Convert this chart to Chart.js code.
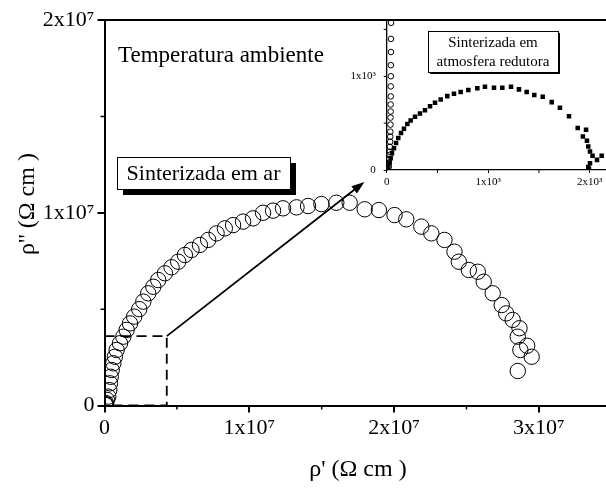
<!DOCTYPE html>
<html>
<head>
<meta charset="utf-8">
<script src="https://cdn.jsdelivr.net/npm/chart.js@4.4.1/dist/chart.umd.min.js"></script>
<style>
  html, body { margin: 0; padding: 0; background: #fff; overflow: hidden; }
  #wrap { position: relative; width: 606px; height: 491px; overflow: hidden; }
  #mainChart { position: absolute; left: 0; top: 0; }
  #insetChart { position: absolute; left: 340px; top: 0; }
</style>
</head>
<body>
<div id="wrap">
  <canvas id="mainChart" width="620" height="491"></canvas>
  <canvas id="insetChart" width="280" height="200"></canvas>
</div>
<script>
// main plot: sample sintered in air (rho', rho'' in Ohm cm)
const airRe = [0.05e6, 0.08e6, 0.1e6, 0.17e6, 0.26e6, 0.33e6, 0.38e6, 0.43e6, 0.50e6, 0.61e6, 0.72e6, 0.84e6,
  1.07e6, 1.30e6, 1.53e6, 1.76e6, 2.05e6, 2.40e6, 2.68e6, 3.02e6, 3.37e6, 3.71e6, 4.17e6, 4.63e6, 5.09e6,
  5.55e6, 6.01e6, 6.59e6, 7.16e6, 7.74e6, 8.31e6, 8.88e6, 9.57e6, 10.26e6, 10.95e6, 11.64e6, 12.33e6,
  13.26e6, 14.06e6, 14.98e6, 16.01e6, 16.93e6, 17.97e6, 18.95e6, 20.03e6, 20.84e6, 21.88e6, 22.57e6,
  23.48e6, 24.17e6, 24.47e6, 25.16e6, 25.78e6, 26.19e6, 26.81e6, 27.43e6, 27.74e6, 28.19e6, 28.66e6,
  28.54e6, 29.19e6, 28.72e6, 29.50e6, 28.54e6];
const airIm = [0.03e6, 0.07e6, 0.13e6, 0.29e6, 0.46e6, 0.80e6, 1.15e6, 1.49e6, 1.84e6, 2.19e6, 2.53e6, 2.88e6,
  3.23e6, 3.57e6, 3.92e6, 4.26e6, 4.61e6, 5.00e6, 5.39e6, 5.82e6, 6.16e6, 6.51e6, 6.86e6, 7.17e6, 7.46e6,
  7.81e6, 8.07e6, 8.33e6, 8.59e6, 8.93e6, 9.19e6, 9.36e6, 9.54e6, 9.71e6, 10.00e6, 10.11e6, 10.23e6,
  10.28e6, 10.35e6, 10.45e6, 10.52e6, 10.52e6, 10.18e6, 10.14e6, 9.88e6, 9.66e6, 9.28e6, 8.93e6,
  8.59e6, 7.98e6, 7.46e6, 7.03e6, 6.94e6, 6.42e6, 5.82e6, 5.21e6, 4.78e6, 4.44e6, 4.01e6,
  3.57e6, 3.10e6, 2.88e6, 2.53e6, 1.79e6];

// inset: air sample near origin (open circles) and reducing atmosphere sample (squares)
const insetAirRe = [20, 22, 25, 28, 30, 32, 34, 35, 36, 37, 38, 39, 39, 40, 40, 41, 41, 42, 42, 43];
const insetAirIm = [32, 75, 118, 161, 194, 247, 301, 355, 409, 484, 559, 624, 699, 785, 892, 1000, 1118, 1258, 1398, 1570];
const redRe = [16, 26, 39, 52, 72, 92, 114, 141, 170, 203, 236, 279, 328, 377, 427, 476, 532, 597, 663, 729,
  804, 893, 968, 1057, 1139, 1225, 1303, 1379, 1454, 1537, 1626, 1707, 1796, 1882, 1964, 1933, 1973,
  1986, 2003, 2028, 2072, 2118, 2003, 1986, 1993];
const redIm = [18, 72, 126, 180, 233, 287, 341, 395, 441, 491, 527, 567, 602, 638, 681, 717, 753, 788, 814, 831,
  853, 871, 889, 878, 878, 889, 860, 831, 799, 782, 724, 663, 573, 448, 430, 358, 312,
  251, 197, 151, 108, 151, 72, 32, 11];

// zoom box and arrow (data units of main plot)
const boxRe = [0, 4.3e6, 4.3e6, 0];
const boxIm = [3.6e6, 3.6e6, 0, 0];
const arrowFrom = [4.3e6, 3.6e6];
const arrowTo = [17.95e6, 11.6e6];

const mainXTicks = [0, 1e7, 2e7, 3e7];
const mainYTicks = [0, 1e7, 2e7];
const mainXLabels = ['0', '1x10⁷', '2x10⁷', '3x10⁷'];
const mainYLabels = ['0', '1x10⁷', '2x10⁷'];
const insetXTicks = [0, 1000, 2000];
const insetYTicks = [0, 1000];
const insetXLabels = ['0', '1x10³', '2x10³'];
const insetYLabels = ['0', '1x10³'];

const SERIF = '"Liberation Serif", "Times New Roman", serif';

function pts(xs, ys) { return xs.map((x, i) => ({ x: x, y: ys[i] })); }

function fixedTicks(values) {
  return s => { s.ticks = values.map(v => ({ value: v })); };
}

function axisLabels(values, labels) {
  return function (v) {
    const i = values.indexOf(v);
    return i >= 0 ? labels[i] : '';
  };
}

function minorTicks(scale, values, len, width) {
  const ctx = scale.ctx;
  ctx.save();
  ctx.strokeStyle = '#000';
  ctx.lineWidth = width;
  ctx.beginPath();
  values.forEach(v => {
    const p = scale.getPixelForValue(v);
    if (scale.isHorizontal()) {
      ctx.moveTo(p, scale.top); ctx.lineTo(p, scale.top + len);
    } else {
      ctx.moveTo(scale.right, p); ctx.lineTo(scale.right - len, p);
    }
  });
  ctx.stroke();
  ctx.restore();
}

const mainDecor = {
  id: 'mainDecor',
  afterDraw(chart) {
    const { ctx, chartArea: a, scales: { x, y } } = chart;
    ctx.save();
    // top / right frame
    ctx.strokeStyle = '#000';
    ctx.lineWidth = 2;
    ctx.beginPath();
    ctx.moveTo(a.left, a.top); ctx.lineTo(a.right, a.top); ctx.lineTo(a.right, a.bottom);
    ctx.stroke();
    minorTicks(x, [0.5e7, 1.5e7, 2.5e7], 4, 1.5);
    minorTicks(y, [0.5e7, 1.5e7], 4, 1.5);

    // y axis title
    ctx.save();
    ctx.translate(28, 204);
    ctx.rotate(-Math.PI / 2);
    ctx.fillStyle = '#000';
    ctx.font = '24px ' + SERIF;
    ctx.textAlign = 'center';
    ctx.textBaseline = 'middle';
    ctx.fillText("ρ'' (Ω cm )", 0, 0);
    ctx.restore();

    // arrow
    const x0 = x.getPixelForValue(arrowFrom[0]), y0 = y.getPixelForValue(arrowFrom[1]);
    const x1 = x.getPixelForValue(arrowTo[0]), y1 = y.getPixelForValue(arrowTo[1]);
    const ang = Math.atan2(y1 - y0, x1 - x0);
    ctx.lineWidth = 1.8;
    ctx.beginPath();
    ctx.moveTo(x0, y0);
    ctx.lineTo(x1 - 10 * Math.cos(ang), y1 - 10 * Math.sin(ang));
    ctx.stroke();
    ctx.fillStyle = '#000';
    ctx.beginPath();
    ctx.moveTo(x1, y1);
    ctx.lineTo(x1 - 13 * Math.cos(ang) + 4.5 * Math.sin(ang), y1 - 13 * Math.sin(ang) - 4.5 * Math.cos(ang));
    ctx.lineTo(x1 - 13 * Math.cos(ang) - 4.5 * Math.sin(ang), y1 - 13 * Math.sin(ang) + 4.5 * Math.cos(ang));
    ctx.closePath();
    ctx.fill();

    // labels
    ctx.fillStyle = '#000';
    ctx.font = '23px ' + SERIF;
    ctx.textBaseline = 'middle';
    ctx.textAlign = 'left';
    ctx.fillText('Temperatura ambiente', 118, 56);

    // boxed label with shadow
    const bx = 117, by = 157, bw = 173, bh = 32;
    ctx.fillRect(bx + 6, by + 6, bw, bh);
    ctx.fillStyle = '#fff';
    ctx.fillRect(bx, by, bw, bh);
    ctx.lineWidth = 1;
    ctx.strokeRect(bx + 0.5, by + 0.5, bw, bh);
    ctx.fillStyle = '#000';
    ctx.font = '22px ' + SERIF;
    ctx.textAlign = 'center';
    ctx.fillText('Sinterizada em ar', bx + bw / 2, by + bh / 2 + 1);
    ctx.restore();
  }
};

const insetDecor = {
  id: 'insetDecor',
  afterDraw(chart) {
    const { ctx, scales: { x, y } } = chart;
    minorTicks(x, [500, 1500], 3, 1);
    minorTicks(y, [500, 1500], 3, 1);
    ctx.save();
    // boxed label
    const bx = 88, by = 31, bw = 130, bh = 41;
    ctx.fillStyle = '#000';
    ctx.fillRect(bx + 2, by + 2, bw, bh);
    ctx.fillStyle = '#fff';
    ctx.fillRect(bx, by, bw, bh);
    ctx.strokeStyle = '#000';
    ctx.lineWidth = 1;
    ctx.strokeRect(bx + 0.5, by + 0.5, bw, bh);
    ctx.fillStyle = '#000';
    ctx.font = '15px ' + SERIF;
    ctx.textAlign = 'center';
    ctx.textBaseline = 'middle';
    ctx.fillText('Sinterizada em', bx + bw / 2, by + 12);
    ctx.fillText('atmosfera redutora', bx + bw / 2, by + 31);
    ctx.restore();
  }
};

new Chart(document.getElementById('mainChart'), {
  type: 'scatter',
  data: {
    datasets: [{
      data: pts(airRe, airIm),
      pointStyle: 'circle',
      pointRadius: 7.7,
      borderColor: '#000',
      borderWidth: 1,
      backgroundColor: 'rgba(0,0,0,0)'
    }, {
      data: pts(boxRe, boxIm),
      showLine: true,
      pointRadius: 0,
      borderColor: '#000',
      borderWidth: 1.8,
      borderDash: [10, 6],
      clip: false
    }]
  },
  options: {
    responsive: false,
    animation: false,
    events: [],
    layout: { padding: { top: 20, right: 8, left: 0, bottom: 0 } },
    plugins: { legend: { display: false }, tooltip: { enabled: false } },
    scales: {
      x: {
        type: 'linear', min: 0, max: 3.5e7,
        afterBuildTicks: fixedTicks(mainXTicks),
        afterFit: s => { s.height = 85.5; },
        ticks: {
          autoSkip: false, maxRotation: 0, padding: 3, color: '#000',
          font: { family: SERIF, size: 22 },
          callback: axisLabels(mainXTicks, mainXLabels)
        },
        grid: { drawOnChartArea: false, tickLength: 7, color: '#000', lineWidth: 2 },
        border: { color: '#000', width: 2 },
        title: {
          display: true, text: "ρ' (Ω cm )", color: '#000',
          font: { family: SERIF, size: 24 }, padding: { top: 0, bottom: 7 }
        }
      },
      y: {
        type: 'linear', min: 0, max: 2e7,
        afterBuildTicks: fixedTicks(mainYTicks),
        afterFit: s => { s.width = 104.5; },
        ticks: {
          autoSkip: false, padding: 3, color: '#000',
          font: { family: SERIF, size: 22 },
          callback: axisLabels(mainYTicks, mainYLabels)
        },
        grid: { drawOnChartArea: false, tickLength: 7, color: '#000', lineWidth: 2 },
        border: { color: '#000', width: 2 }
      }
    }
  },
  plugins: [mainDecor]
});

new Chart(document.getElementById('insetChart'), {
  type: 'scatter',
  data: {
    datasets: [{
      data: pts(insetAirRe, insetAirIm),
      pointStyle: 'circle',
      pointRadius: 2.8,
      borderColor: '#000',
      borderWidth: 1,
      backgroundColor: 'rgba(0,0,0,0)'
    }, {
      data: pts(redRe, redIm),
      pointStyle: 'rect',
      pointRadius: 3.2,
      borderWidth: 0,
      backgroundColor: '#000'
    }]
  },
  options: {
    responsive: false,
    animation: false,
    events: [],
    layout: { padding: { top: 20, right: 10, left: 0, bottom: 0 } },
    plugins: { legend: { display: false }, tooltip: { enabled: false } },
    scales: {
      x: {
        type: 'linear', min: 0, max: 2200,
        afterBuildTicks: fixedTicks(insetXTicks),
        afterFit: s => { s.height = 30; },
        ticks: {
          autoSkip: false, maxRotation: 0, padding: 3, color: '#000',
          font: { family: SERIF, size: 11 },
          callback: axisLabels(insetXTicks, insetXLabels)
        },
        grid: { drawOnChartArea: false, tickLength: 3, color: '#000', lineWidth: 1 },
        border: { color: '#000', width: 1.3 }
      },
      y: {
        type: 'linear', min: 0, max: 1600,
        afterBuildTicks: fixedTicks(insetYTicks),
        afterFit: s => { s.width = 46.7; },
        ticks: {
          autoSkip: false, padding: 8, color: '#000',
          font: { family: SERIF, size: 11 },
          callback: axisLabels(insetYTicks, insetYLabels)
        },
        grid: { drawOnChartArea: false, tickLength: 3, color: '#000', lineWidth: 1 },
        border: { color: '#000', width: 1.3 }
      }
    }
  },
  plugins: [insetDecor]
});
</script>
</body>
</html>
